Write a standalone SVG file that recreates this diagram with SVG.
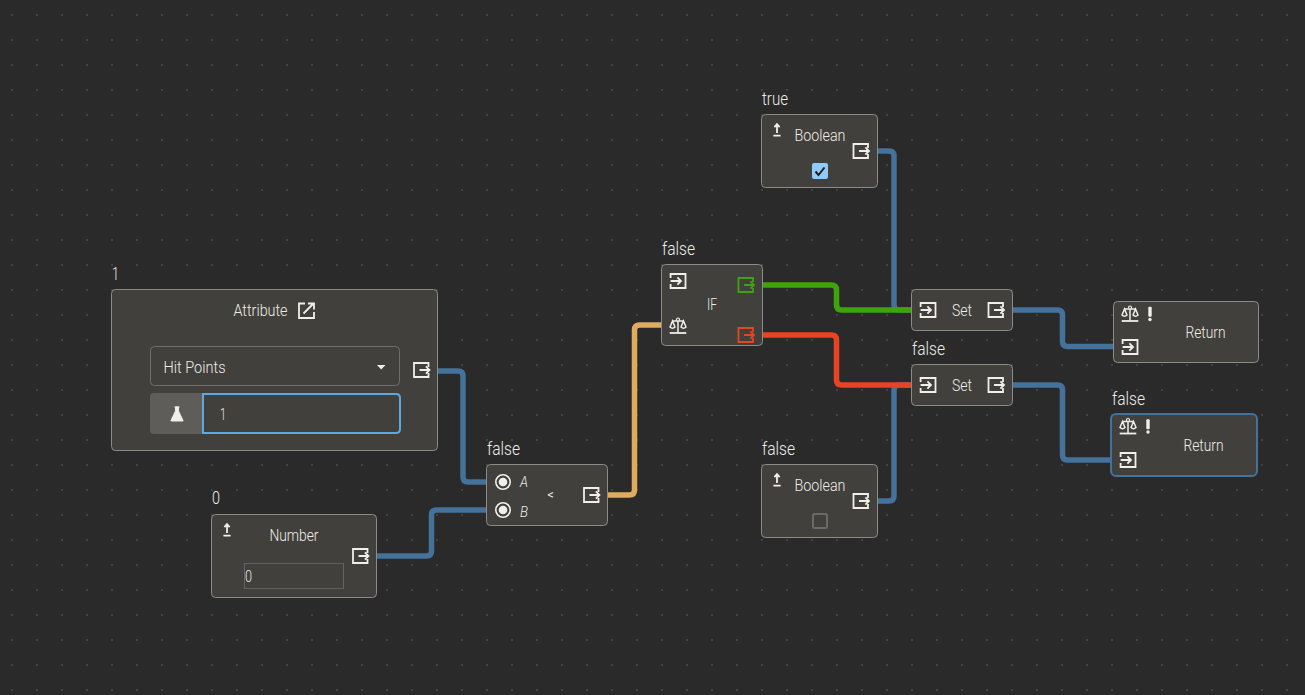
<svg xmlns="http://www.w3.org/2000/svg" width="1305" height="695" viewBox="0 0 1305 695">
<style>
text{font-family:"Roboto","Noto Sans",sans-serif;fill:#eeeee8;font-weight:300}
.lb{font-size:17.500px}
.t{font-size:16px;text-anchor:middle}
.s{font-size:16px}
.n{fill:#42403c;stroke:#8c8c87;stroke-width:1}
.w{fill:none;stroke-width:5.500}
.blue{stroke:#44729a}
.i{fill:none;stroke:#f0f0ea;stroke-width:1.800}
</style>
<defs>
<pattern id="dots" width="25" height="25" patternUnits="userSpaceOnUse" x="0" y="0"><rect x="11" y="14" width="2" height="2" fill="#424242"/></pattern>
<g id="exit"><path d="M7 -3V-7H-7.500V7H7V3M-2 0H8M4.400 -3.600L8 0L4.400 3.600"/></g>
<g id="enter"><path d="M-7.400 -3V-7H7.500V7H-7.400V3M-7.400 0H3M-0.600 -3.600L3 0L-0.600 3.600"/></g>
<g id="scales"><path d="M-8.300 7.500H8.300" stroke-width="1.800"/><path d="M0 -6V7M-5.500 -4.500H5.500M-5.500 -4.500L-8 1.500Q-5.500 4 -3 1.500ZM5.500 -4.500L3 1.500Q5.500 4 8 1.500Z" stroke-width="1.500"/><circle cy="-6" r="1.500" stroke-width="1.200" fill="#42403c"/></g>
<g id="pin"><path d="M0 -5.500V3M-2.600 -2.800L0 -5.800L2.600 -2.800M-3.600 5.700H3.600"/></g>
<g id="bang"><rect x="-1.700" y="-6.700" width="3.400" height="10" rx="1" fill="#f0f0ea"/><circle cy="6" r="1.700" fill="#f0f0ea"/></g>
<g id="radio"><circle r="7.200" fill="none" stroke="#f0f0ea" stroke-width="1.600"/><circle r="4.300" fill="#f0f0ea"/></g>
</defs>
<rect width="1305" height="695" fill="#2a2a2a"/>
<rect width="1305" height="695" fill="url(#dots)"/>
<g id="connectors">
<path class="w blue" d="M437 371H458Q463 371 463 376V477Q463 482 468 482H488"/>
<path class="w blue" d="M376 556H426.500Q431.500 556 431.500 551V515Q431.500 510 436.500 510H488"/>
<path class="w" stroke="#deab5f" d="M607 495H629.500Q634.500 495 634.500 490V330Q634.500 325 639.500 325H662"/>
<path class="w blue" d="M877 151H889Q894 151 894 156V305Q894 310 899 310H912"/>
<path class="w blue" d="M877 501H889Q894 501 894 496V390Q894 385 899 385H912"/>
<path class="w" stroke="#3fa40c" d="M762 285H831.500Q836.500 285 836.500 290V305Q836.500 310 841.500 310H912"/>
<path class="w" stroke="#e84324" d="M762 335H831.500Q836.500 335 836.500 340V380Q836.500 385 841.500 385H912"/>
<path class="w blue" d="M1012 310H1057.500Q1062.500 310 1062.500 315V341.500Q1062.500 346.500 1067.500 346.500H1114"/>
<path class="w blue" d="M1012 385H1057.500Q1062.500 385 1062.500 390V455Q1062.500 460 1067.500 460H1112"/>
</g>
<g id="node-attribute">
<text class="lb" x="112" y="279.500" textLength="7" lengthAdjust="spacingAndGlyphs">1</text>
<rect class="n" x="111.500" y="289.500" width="326" height="161" rx="4"/>
<text class="t" x="260.500" y="315.500" textLength="54" lengthAdjust="spacingAndGlyphs">Attribute</text>
<path class="i" d="M305 303.500H299V318H314V312M303.500 313.500L313.500 303.500M308 303.500H314V309.500"/>
<rect x="150.500" y="346.500" width="249" height="39" rx="4" fill="none" stroke="#6f6e6a"/>
<text class="s" x="163.500" y="372.500" textLength="62" lengthAdjust="spacingAndGlyphs">Hit Points</text>
<path d="M377 365H385.500L381.200 369.500Z" fill="#f0f0ea"/>
<path d="M154 393H203V434H154Q150 434 150 430V397Q150 393 154 393Z" fill="#5e5d59"/>
<path d="M174.500 407H179.500M175.500 407V411L171 420.500Q170.500 421 171.500 421H182.500Q183.500 421 183 420.500L178.500 411V407Z" fill="#f0f0ea" stroke="#f0f0ea" stroke-width="1"/>
<path d="M203 394H396Q400 394 400 398V429Q400 433 396 433H203Z" fill="#42403c" stroke="#5aa9e0" stroke-width="2"/>
<text class="s" x="220" y="419.500" textLength="6" lengthAdjust="spacingAndGlyphs">1</text>
<use href="#exit" class="i" x="421.500" y="370"/>
</g>
<g id="node-number">
<text class="lb" x="212" y="504" textLength="8" lengthAdjust="spacingAndGlyphs">0</text>
<rect class="n" x="211.500" y="514.500" width="165" height="83" rx="4"/>
<use href="#pin" class="i" x="227" y="530"/>
<text class="t" x="294" y="540.500" textLength="49" lengthAdjust="spacingAndGlyphs">Number</text>
<use href="#exit" class="i" x="360.500" y="556"/>
<rect x="244.500" y="563.500" width="99" height="25" fill="none" stroke="#64635f"/>
<text class="s" x="245" y="581.500" textLength="7" lengthAdjust="spacingAndGlyphs">0</text>
</g>
<g id="node-lt">
<text class="lb" x="487" y="454.500" textLength="33" lengthAdjust="spacingAndGlyphs">false</text>
<rect class="n" x="486.500" y="464.500" width="121" height="61" rx="4"/>
<use href="#radio" x="503" y="482"/>
<use href="#radio" x="503" y="510"/>
<text x="520" y="487" font-style="italic" style="font-size:14px" textLength="8" lengthAdjust="spacingAndGlyphs">A</text>
<text x="520" y="517" font-style="italic" style="font-size:14px" textLength="8" lengthAdjust="spacingAndGlyphs">B</text>
<text class="t" x="550.500" y="499" style="font-size:13px;font-weight:400">&lt;</text>
<use href="#exit" class="i" x="591.500" y="495"/>
</g>
<g id="node-if">
<text class="lb" x="662" y="254.500" textLength="33" lengthAdjust="spacingAndGlyphs">false</text>
<rect class="n" x="661.500" y="264.500" width="101" height="81" rx="4"/>
<use href="#enter" class="i" x="678" y="281"/>
<use href="#scales" class="i" x="678" y="325.500"/>
<text class="t" x="712" y="310" textLength="10" lengthAdjust="spacingAndGlyphs">IF</text>
<use href="#exit" class="i" x="746" y="285" style="stroke:#3fa40c"/>
<use href="#exit" class="i" x="746" y="335" style="stroke:#e84324"/>
</g>
<g id="node-bool-true">
<text class="lb" x="762" y="104.500" textLength="26" lengthAdjust="spacingAndGlyphs">true</text>
<rect class="n" x="761.500" y="114.500" width="116" height="73" rx="4"/>
<use href="#pin" class="i" x="777" y="130"/>
<text class="t" x="820" y="140.500" textLength="51" lengthAdjust="spacingAndGlyphs">Boolean</text>
<use href="#exit" class="i" x="861" y="151"/>
<rect x="812" y="163" width="16" height="16" rx="2" fill="#90caf9"/>
<path d="M815.500 171.500L818.500 175L824.500 167.500" fill="none" stroke="#1c1c1c" stroke-width="2"/>
</g>
<g id="node-bool-false">
<text class="lb" x="762" y="454.500" textLength="33" lengthAdjust="spacingAndGlyphs">false</text>
<rect class="n" x="761.500" y="464.500" width="116" height="73" rx="4"/>
<use href="#pin" class="i" x="777" y="480"/>
<text class="t" x="820" y="490.500" textLength="51" lengthAdjust="spacingAndGlyphs">Boolean</text>
<use href="#exit" class="i" x="861" y="501"/>
<rect x="813" y="514" width="14" height="14" rx="1.500" fill="none" stroke="#6b6a66" stroke-width="2"/>
</g>
<g id="node-set-1">
<rect class="n" x="911.500" y="289.500" width="101" height="41" rx="4"/>
<use href="#enter" class="i" x="928" y="310"/>
<text class="t" x="962" y="315.500" textLength="20" lengthAdjust="spacingAndGlyphs">Set</text>
<use href="#exit" class="i" x="996" y="310"/>
</g>
<g id="node-set-2">
<text class="lb" x="912" y="354.500" textLength="33" lengthAdjust="spacingAndGlyphs">false</text>
<rect class="n" x="911.500" y="364.500" width="101" height="41" rx="4"/>
<use href="#enter" class="i" x="928" y="385"/>
<text class="t" x="962" y="390.500" textLength="20" lengthAdjust="spacingAndGlyphs">Set</text>
<use href="#exit" class="i" x="996" y="385"/>
</g>
<g id="node-return-1">
<rect class="n" x="1113.500" y="301.500" width="145" height="61" rx="4"/>
<use href="#scales" class="i" x="1130" y="313.500"/>
<use href="#bang" x="1150" y="313.500"/>
<text class="t" x="1205.500" y="337.500" textLength="40" lengthAdjust="spacingAndGlyphs">Return</text>
<use href="#enter" class="i" x="1130" y="347"/>
</g>
<g id="node-return-2">
<text class="lb" x="1112" y="404.500" textLength="33" lengthAdjust="spacingAndGlyphs">false</text>
<rect class="n" x="1111" y="414" width="146" height="62" rx="5" style="stroke:#44729a;stroke-width:2"/>
<use href="#scales" class="i" x="1128" y="426"/>
<use href="#bang" x="1148" y="426"/>
<text class="t" x="1203.500" y="450.500" textLength="40" lengthAdjust="spacingAndGlyphs">Return</text>
<use href="#enter" class="i" x="1128" y="460"/>
</g>
</svg>
